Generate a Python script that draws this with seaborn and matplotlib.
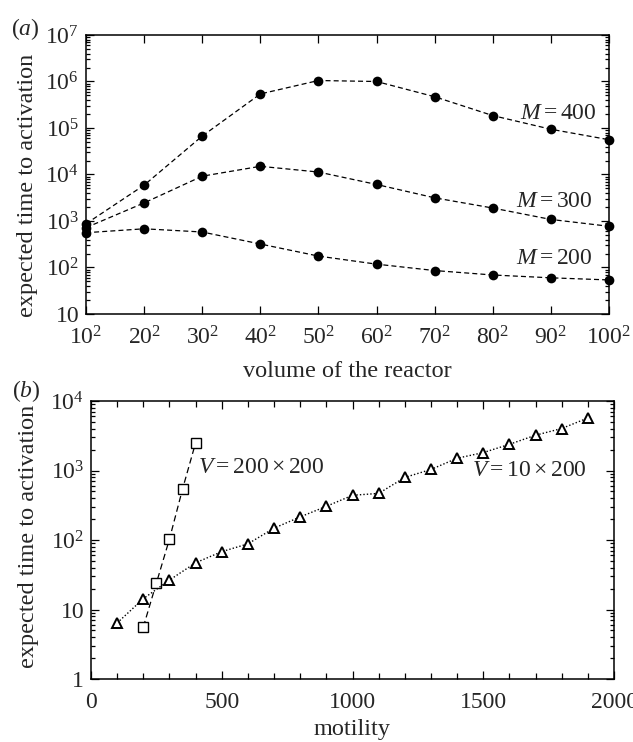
import seaborn as sns
import matplotlib.pyplot as plt
import matplotlib.ticker as mticker
import numpy as np

# panel (a): side length of the reactor (volume = side^2)
side = [10, 20, 30, 40, 50, 60, 70, 80, 90, 100]
m400 = [870, 5900, 67000, 540000, 1.05e6, 1.0e6, 4.7e5, 1.85e5, 9.4e4, 5.6e4]
m300 = [720, 2450, 9200, 15000, 11300, 6100, 3150, 1900, 1080, 770]
m200 = [560, 680, 580, 320, 176, 118, 86, 69, 60, 54]

# panel (b): motility
mot_sq = [200, 250, 300, 350, 400]
v200x200 = [5.6, 24, 103, 540, 2500]
mot_tri = [100, 200, 300, 400, 500, 600, 700, 800, 900, 1000,
           1100, 1200, 1300, 1400, 1500, 1600, 1700, 1800, 1900]
v10x200 = [6.4, 14.3, 26.5, 47, 68, 88, 148, 215, 305, 440,
           468, 795, 1035, 1500, 1810, 2380, 3220, 4020, 5700]

sns.set_style("ticks")
plt.rcParams['font.family'] = ['Liberation Serif', 'DejaVu Serif']
plt.rcParams['mathtext.fontset'] = 'custom'
plt.rcParams['mathtext.rm'] = 'Liberation Serif'
plt.rcParams['mathtext.it'] = 'Liberation Serif:italic'
plt.rcParams['axes.linewidth'] = 1.1
plt.rcParams['axes.edgecolor'] = 'black'

FS = 17     # ticks and annotations
LFS = 17.5  # axis labels

fig = plt.figure(figsize=(6.33, 7.42), dpi=100)
ax1 = fig.add_axes([86/633, 1-314/742, 523/633, 279/742])
ax2 = fig.add_axes([91/633, 1-679/742, 523/633, 278/742])

for ys in [m400, m300, m200]:
    sns.lineplot(x=side, y=ys, ax=ax1, color='black', linestyle=(0, (4, 2.5)),
                 linewidth=0.9, marker='o', markersize=7, markeredgewidth=0,
                 clip_on=False)
ax1.set_yscale('log')
ax1.set_xlim(10, 100)
ax1.set_ylim(10, 1e7)
ax1.set_xticks(side)
ax1.set_xticklabels([r'$%d^2$' % s for s in side])
ax1.set_xlabel('volume of the reactor', fontsize=LFS, labelpad=8)
ax1.set_ylabel('expected time to activation', fontsize=LFS)
ax1.yaxis.set_label_coords((38-86)/523, (314-185)/279)

ax1.text(97.8, 10**5.32, r'$M = 400$', ha='right', va='center', fontsize=FS)
ax1.text(97.1, 10**3.41, r'$M = 300$', ha='right', va='center', fontsize=FS)
ax1.text(97.1, 10**2.20, r'$M = 200$', ha='right', va='center', fontsize=FS)

sns.lineplot(x=mot_sq, y=v200x200, ax=ax2, color='black', linestyle=(0, (5, 3)),
             linewidth=0.9, marker='s', markersize=6.5, markerfacecolor='white',
             markeredgecolor='black', markeredgewidth=1.0)
sns.lineplot(x=mot_tri, y=v10x200, ax=ax2, color='black', linestyle=(0, (1, 1.5)),
             linewidth=1.0, marker='^', markersize=7, markerfacecolor='white',
             markeredgecolor='black', markeredgewidth=1.4)
ax2.set_yscale('log')
ax2.set_xlim(0, 2000)
ax2.set_ylim(1, 1e4)
ax2.set_xticks([0, 500, 1000, 1500, 2000])
ax2.xaxis.set_minor_locator(mticker.MultipleLocator(100))
ax2.set_xlabel('motility', fontsize=LFS, labelpad=5)
ax2.set_ylabel('expected time to activation', fontsize=LFS)
ax2.yaxis.set_label_coords((39-91)/523, (679-536)/278)
ax2.text(409, 10**3.05, r'$V = 200\times200$', ha='left', va='center', fontsize=FS)
ax2.text(1457, 10**3.0, r'$V = 10\times200$', ha='left', va='center', fontsize=FS)


def logfmt(v, pos):
    e = int(round(np.log10(v)))
    if e == 0:
        return '1'
    if e == 1:
        return '10'
    return r'$10^{%d}$' % e


for ax in (ax1, ax2):
    ax.yaxis.set_major_locator(mticker.LogLocator(base=10, numticks=12))
    ax.yaxis.set_minor_locator(mticker.LogLocator(base=10, subs=np.arange(2, 10), numticks=12))
    ax.yaxis.set_major_formatter(mticker.FuncFormatter(logfmt))
    ax.yaxis.set_minor_formatter(mticker.NullFormatter())
    ax.tick_params(which='both', direction='in', top=True, right=True,
                   labelsize=FS, color='black', width=0.9)
    ax.tick_params(which='major', length=6, pad=5)
    ax.tick_params(which='minor', length=3)
    ax.tick_params(axis='x', which='major', pad=9)
    for sp in ax.spines.values():
        sp.set_visible(True)
ax2.tick_params(axis='x', which='minor', length=4)

fig.text(25/633, 1-29/742, r'$(\mathit{a})$', fontsize=FS, ha='center', va='center')
fig.text(26/633, 1-391/742, r'$(\mathit{b})$', fontsize=FS, ha='center', va='center')

fig.savefig('out.png', dpi=100)
